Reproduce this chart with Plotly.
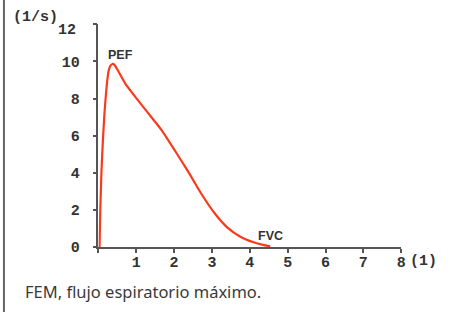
import plotly.graph_objects as go

# Flow-volume curve data (volume in litres, flow in l/s)
volume = [0.03, 0.05, 0.08, 0.12, 0.16, 0.19, 0.23, 0.27, 0.32, 0.37, 0.42, 0.49,
          0.60, 0.71, 0.97, 1.32, 1.67, 2.02, 2.36, 2.71, 3.06, 3.41, 3.75, 4.10,
          4.35, 4.54]
flow = [0.0, 2.0, 4.0, 5.8, 7.2, 8.0, 8.9, 9.5, 9.77, 9.86, 9.82, 9.6,
        9.2, 8.8, 8.1, 7.2, 6.3, 5.2, 4.1, 2.9, 1.85, 1.05, 0.56, 0.26,
        0.12, 0.04]

x_ticks = [0, 1, 2, 3, 4, 5, 6, 7, 8]
x_ticktext = ["", "1", "2", "3", "4", "5", "6", "7", "8"]
y_ticks = [0, 2, 4, 6, 8, 10, 12]
y_ticktext = ["0", "2", "4", "6", "8", "10", ""]
y_top_label = "12"

W, H = 453, 322
x0px, x8px = 99.5, 405.7
ytop, ybot = 25, 255

fig = go.Figure()
fig.add_trace(go.Scatter(x=volume, y=flow, mode="lines",
                         line=dict(color="#fa3a1a", width=2.2, shape="spline",
                                   smoothing=0.5),
                         hoverinfo="skip", showlegend=False))

tickfont = dict(family="Liberation Mono", size=15, color="#333333", weight="bold")
axcol = "#555555"

fig.update_layout(
    width=W, height=H,
    margin=dict(l=0, r=0, t=0, b=0),
    paper_bgcolor="white", plot_bgcolor="white",
    xaxis=dict(domain=[x0px / W, x8px / W], range=[0, 8], showgrid=False,
               zeroline=False, showline=True, linecolor=axcol, linewidth=1.5,
               ticks="outside", ticklen=4, tickwidth=1.5, tickcolor=axcol,
               tickvals=x_ticks, ticktext=x_ticktext, tickfont=tickfont,
               ticklabelstandoff=-4),
    yaxis=dict(domain=[1 - ybot / H, 1 - ytop / H], range=[0, 12], showgrid=False,
               zeroline=False, showline=True, linecolor=axcol, linewidth=1.5,
               ticks="outside", ticklen=4, tickwidth=1.5, tickcolor=axcol,
               tickvals=y_ticks, ticktext=y_ticktext, tickfont=tickfont,
               ticklabelstandoff=10),
)

# top y label sits a little below its tick in the reference
fig.add_annotation(x=79 / W, y=1 - 31 / H, xref="paper", yref="paper",
                   text=y_top_label, showarrow=False, xanchor="right",
                   yanchor="middle", font=tickfont)

labfont = dict(family="Liberation Sans", size=12.5, color="#333333", weight="bold")
fig.add_annotation(x=0.58, y=10.33, xref="x", yref="y", text="PEF",
                   showarrow=False, font=labfont)
fig.add_annotation(x=4.54, y=0.57, xref="x", yref="y", text="FVC",
                   showarrow=False, font=labfont)

fig.add_annotation(x=11.5 / W, y=1 - 18 / H, xref="paper", yref="paper",
                   text="(1/s)", showarrow=False, xanchor="left", yanchor="middle",
                   font=tickfont)
fig.add_annotation(x=413 / W, y=1 - 270 / H, xref="paper", yref="paper",
                   text="(1)", showarrow=False, xanchor="left", yanchor="middle",
                   font=tickfont)

fig.add_annotation(x=23 / W, y=1 - 300.5 / H, xref="paper", yref="paper",
                   text="FEM, flujo espiratorio máximo.", showarrow=False,
                   xanchor="left", yanchor="middle",
                   font=dict(family="Noto Sans", size=16.5, color="#3a3a3a"))

# left border line
fig.add_shape(type="line", xref="paper", yref="paper",
              x0=4 / W, x1=4 / W, y0=0, y1=1,
              line=dict(color="#666666", width=2))

fig.write_html("out.html")
